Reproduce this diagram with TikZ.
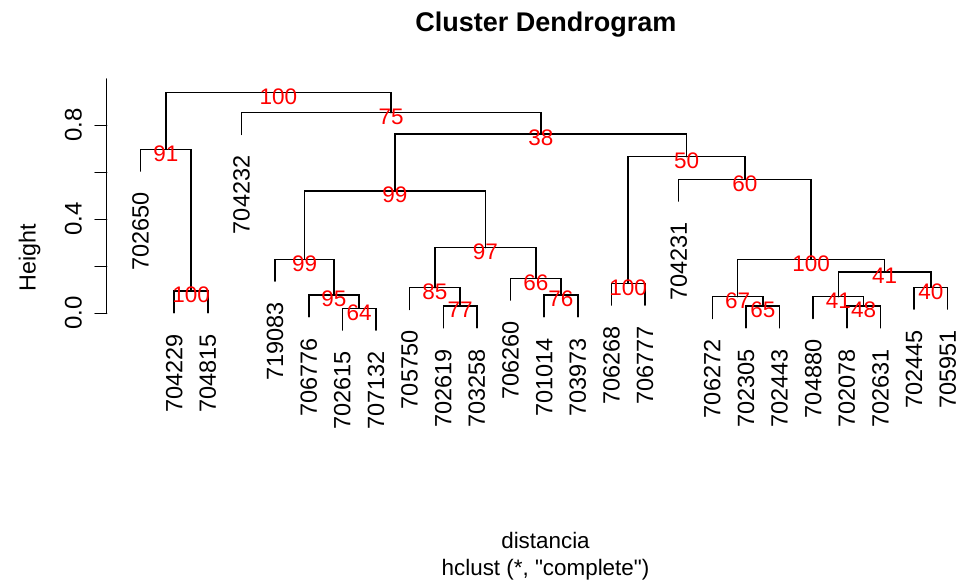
\documentclass[tikz,border=0pt]{standalone}
\usepackage{fontspec}
\setmainfont{Liberation Sans}[Ligatures=TeXOff]
\begin{document}
\begin{tikzpicture}[x=1pt,y=-1pt,
  link/.style={line width=1.5pt,line cap=round},
  leaflabel/.style={rotate=90,anchor=east,inner sep=0pt,font=\fontsize{23.5}{23.5}\selectfont},
  bpval/.style={text=red,inner sep=0pt,font=\fontsize{22.5}{22.5}\selectfont},
  axislabel/.style={rotate=90,inner sep=0pt,font=\fontsize{24}{24}\selectfont},
  caption/.style={anchor=base,inner sep=0pt,font=\fontsize{22.4}{22.4}\selectfont}]
\useasboundingbox[fill=white] (0,0) rectangle (959,583);

% leaves: label / lower end of the hanging segment
\foreach \lab/\yb [count=\i] in {
  702650/171.1, 704229/312.8, 704815/312.8, 704232/134.5, 719083/281.1,
  706776/316.8, 702615/330.1, 707132/330.1, 705750/309.5, 702619/327.8,
  703258/327.8, 706260/300.1, 701014/316.8, 703973/316.8, 706268/305.1,
  706777/305.1, 704231/201.1, 706272/318.5, 702305/327.8, 702443/327.8,
  704880/318.5, 702078/327.8, 702631/327.8, 702445/309.1, 705951/309.1}
{
  \coordinate (l\i) at ({140.6+33.63*(\i-1)},\yb);
  \node[leaflabel] (t\i) at ([yshift=-21pt]l\i) {\lab};
}

% merge points: name / x / height
\foreach \n/\x/\y in {
  A/191.05/291, B/165.83/149.3, C/359.2/308.3, D/333.98/295, E/304.55/259.3,
  F/460.09/306, G/434.87/287.7, H/560.98/295, I/535.76/278.3, J/485.32/247.7,
  K/394.94/191, L/628.24/283.3, M/762.76/306, N/737.54/296.7, O/863.65/306,
  P/838.43/296.7, Q/930.91/287.3, R/884.67/272, S/811.11/259.3, T/744.9/179.3,
  U/686.57/156.7, V/540.76/134, W/391.13/112.7, X/278.48/92.7}
{
  \coordinate (n\n) at (\x,\y);
}

% dendrogram branches
\draw[link] (l2) |- (nA) -| (l3);
\draw[link] (l1) |- (nB) -| (nA);
\draw[link] (l7) |- (nC) -| (l8);
\draw[link] (l6) |- (nD) -| (nC);
\draw[link] (l5) |- (nE) -| (nD);
\draw[link] (l10) |- (nF) -| (l11);
\draw[link] (l9) |- (nG) -| (nF);
\draw[link] (l13) |- (nH) -| (l14);
\draw[link] (l12) |- (nI) -| (nH);
\draw[link] (nG) |- (nJ) -| (nI);
\draw[link] (nE) |- (nK) -| (nJ);
\draw[link] (l15) |- (nL) -| (l16);
\draw[link] (l19) |- (nM) -| (l20);
\draw[link] (l18) |- (nN) -| (nM);
\draw[link] (l22) |- (nO) -| (l23);
\draw[link] (l21) |- (nP) -| (nO);
\draw[link] (l24) |- (nQ) -| (l25);
\draw[link] (nP) |- (nR) -| (nQ);
\draw[link] (nN) |- (nS) -| (nR);
\draw[link] (l17) |- (nT) -| (nS);
\draw[link] (nL) |- (nU) -| (nT);
\draw[link] (nK) |- (nV) -| (nU);
\draw[link] (l4) |- (nW) -| (nV);
\draw[link] (nB) |- (nX) -| (nW);

% bootstrap values at each merge
\foreach \n/\v in {A/100, B/91, C/64, D/95, E/99, F/77, G/85, H/76, I/66, J/97,
  K/99, L/100, M/65, N/67, O/48, P/41, Q/40, R/41, S/100, T/60, U/50, V/38,
  W/75, X/100}
{
  \node[bpval] (p\n) at ([yshift=-4pt]n\n) {\v};
}

% height axis
\coordinate (axtop) at (106.7,79);
\coordinate (axbot) at (106.7,313.3);
\draw[link] (axtop) -- (axbot);
\foreach \k/\yy in {0/313.3,1/266.3,2/219.3,3/172.3,4/125.3}
{
  \coordinate (tk\k) at (106.7,\yy);
  \coordinate (te\k) at (95,\yy);
  \draw[link] (tk\k) -- (te\k);
}
\node[axislabel] (v0) at (73.3,313.3) {0.0};
\node[axislabel] (v4) at (73.3,219.3) {0.4};
\node[axislabel] (v8) at (73.3,125.3) {0.8};
\node[axislabel,anchor=base,font=\fontsize{23.3}{23.3}\selectfont] (ylab) at (35.5,257.5) {Height};

% titles
\node[anchor=base,inner sep=0pt,font=\bfseries\fontsize{27}{27}\selectfont] (title) at (545.8,31.7) {Cluster Dendrogram};
\node[caption] (xlab) at (545.5,548.3) {distancia};
\node[caption] (sub) at (545.5,575.5) {hclust (*, "complete")};
\end{tikzpicture}
\end{document}
